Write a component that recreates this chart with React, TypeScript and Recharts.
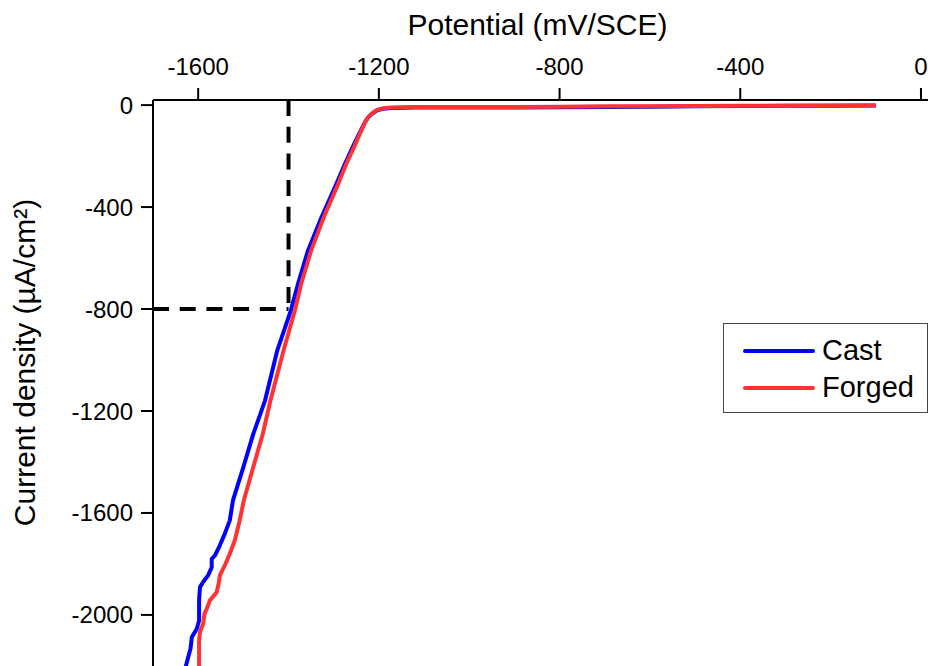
import { Legend, Line, LineChart, ReferenceLine, XAxis, YAxis } from "recharts"

// Cathodic polarisation sweeps, potential in mV/SCE and current density in µA/cm²
const castPotential = [
  -1630, -1622, -1617, -1614, -1603, -1598, -1598, -1596, -1589, -1578,
  -1570, -1570, -1563, -1552, -1541, -1530, -1523, -1500, -1478, -1452,
  -1425, -1395, -1379, -1357, -1327, -1294, -1275, -1258, -1243, -1236,
  -1230, -1224, -1218, -1211, -1205, -1197, -1190, -1180, -1170, -1120,
  -1000, -900, -800, -700, -600, -500, -400, -300, -200, -100,
]
const castCurrent = [
  -2220, -2165, -2133, -2087, -2054, -2022, -1943, -1891, -1871, -1845,
  -1813, -1780, -1767, -1727, -1681, -1629, -1551, -1420, -1290, -1159,
  -963, -806, -701, -571, -440, -309, -230, -165, -110, -86,
  -65, -49, -38, -29, -22, -17, -14, -12, -11, -9,
  -9, -9, -8, -7, -6, -5, -4, -3, -3, -2,
]

const forgedPotential = [
  -1598, -1598, -1596, -1589, -1586, -1581, -1574, -1559, -1554, -1552,
  -1541, -1530, -1519, -1508, -1499, -1478, -1457, -1440, -1411, -1386,
  -1372, -1350, -1322, -1290, -1272, -1255, -1241, -1235, -1229, -1223,
  -1217, -1210, -1204, -1196, -1189, -1180, -1170, -1120, -1000, -900,
  -800, -700, -600, -500, -400, -300, -200, -100,
]
const forgedCurrent = [
  -2220, -2100, -2067, -2035, -1995, -1976, -1943, -1911, -1871, -1845,
  -1806, -1760, -1708, -1629, -1551, -1420, -1290, -1159, -963, -806,
  -701, -571, -440, -309, -230, -165, -108, -84, -62, -46,
  -35, -26, -19, -15, -12, -10, -9, -7, -7, -7,
  -6, -5, -5, -4, -3, -3, -2, -2,
]

const xTicks = [-1600, -1200, -800, -400, 0]
const xMinorTicks = [-1400, -1000, -600, -200]
const yTicks = [0, -400, -800, -1200, -1600, -2000]
const yMinorTicks = [-200, -600, -1000, -1400, -1800, -2200]

// guide lines marking -1400 mV / -800 µA/cm²
const markPotential = -1400
const markCurrent = -800

const xDomain = [-1700, 20]
const yDomain = [-2220, 20]

const font = "'Liberation Sans', Arial, Helvetica, sans-serif"
const axisStroke = { stroke: "#000", strokeWidth: 2 }
const tickText = { fill: "#000", fontSize: 24, fontFamily: font }

const toPoints = (potential: number[], current: number[]) =>
  potential.map((p, i) => ({ potential: p, current: current[i] }))

const castData = toPoints(castPotential, castCurrent)
const forgedData = toPoints(forgedPotential, forgedCurrent)

const XTitle = (props: any) => {
  const { x, y, width } = props.viewBox
  return (
    <text x={x + width / 2 - 4} y={y - 5} textAnchor="middle" fontSize={30} fontFamily={font} fill="#000">
      Potential (mV/SCE)
    </text>
  )
}

const YTitle = (props: any) => {
  const { x, y, height } = props.viewBox
  const cx = x + 34.5
  const cy = y + height / 2 - 23
  return (
    <text
      x={cx}
      y={cy}
      textAnchor="middle"
      fontSize={30}
      fontFamily={font}
      fill="#000"
      transform={`rotate(-90 ${cx} ${cy})`}
    >
      Current density (µA/cm²)
    </text>
  )
}

const LegendBox = (props: any) => (
  <div
    style={{
      border: "1.5px solid #444",
      boxSizing: "border-box",
      width: 205,
      height: 90,
      paddingTop: 8,
      background: "#fff",
      fontFamily: font,
      fontSize: 29,
      color: "#000",
    }}
  >
    {(props.payload || []).map((item: any) => (
      <div key={item.value} style={{ display: "flex", alignItems: "center", height: 37, marginLeft: 19 }}>
        <svg width={72} height={6}>
          <line x1={2} y1={3} x2={70} y2={3} stroke={item.color} strokeWidth={4} strokeLinecap="round" />
        </svg>
        <span style={{ marginLeft: 7, lineHeight: "37px" }}>{item.value}</span>
      </div>
    ))}
  </div>
)

export default function App() {
  return (
    <div style={{ position: "fixed", left: 0, top: 0, width: 928, height: 666, overflow: "hidden", background: "#fff" }}>
      <LineChart width={940} height={671} margin={{ top: 40, right: 10, left: 0, bottom: 0 }}>
        <XAxis
          xAxisId="minor"
          orientation="top"
          type="number"
          dataKey="potential"
          domain={xDomain}
          allowDataOverflow
          ticks={xMinorTicks}
          interval={0}
          tick={false}
          tickSize={6}
          tickLine={axisStroke}
          axisLine={false}
          height={0}
        />
        <XAxis
          orientation="top"
          type="number"
          dataKey="potential"
          domain={xDomain}
          allowDataOverflow
          ticks={xTicks}
          interval={0}
          tick={tickText}
          tickSize={12}
          tickMargin={13}
          tickLine={axisStroke}
          axisLine={axisStroke}
          height={60}
          label={XTitle}
        />
        <YAxis
          yAxisId="minor"
          type="number"
          domain={yDomain}
          allowDataOverflow
          ticks={yMinorTicks}
          interval={0}
          tick={false}
          tickSize={6}
          tickLine={axisStroke}
          axisLine={false}
          width={0}
        />
        <YAxis
          type="number"
          domain={yDomain}
          allowDataOverflow
          ticks={yTicks}
          interval={0}
          tick={tickText}
          tickSize={12}
          tickMargin={8}
          tickLine={axisStroke}
          axisLine={axisStroke}
          width={153}
          label={YTitle}
        />
        <ReferenceLine
          segment={[
            { x: markPotential, y: 20 },
            { x: markPotential, y: markCurrent },
          ]}
          stroke="#000"
          strokeWidth={4}
          strokeDasharray="16 10.7"
        />
        <ReferenceLine
          segment={[
            { x: -1700, y: markCurrent },
            { x: markPotential, y: markCurrent },
          ]}
          stroke="#000"
          strokeWidth={4}
          strokeDasharray="16 10.7"
        />
        <Line
          data={castData}
          dataKey="current"
          name="Cast"
          stroke="#0000ff"
          strokeWidth={4}
          strokeLinejoin="round"
          dot={false}
          activeDot={false}
          isAnimationActive={false}
        />
        <Line
          data={forgedData}
          dataKey="current"
          name="Forged"
          stroke="#ff3333"
          strokeWidth={4}
          strokeLinejoin="round"
          dot={false}
          activeDot={false}
          isAnimationActive={false}
        />
        <Legend
          layout="vertical"
          align="center"
          verticalAlign="middle"
          content={LegendBox}
          wrapperStyle={{ left: 723, top: 323, width: 205, height: 90 }}
        />
      </LineChart>
    </div>
  )
}
